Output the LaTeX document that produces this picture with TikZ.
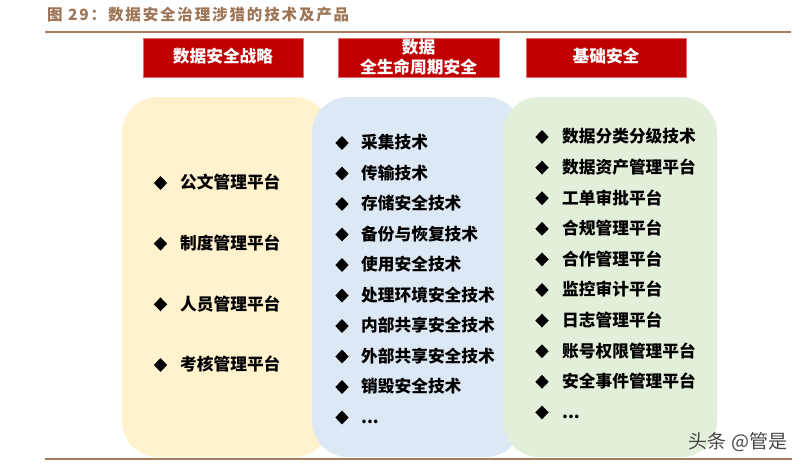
\documentclass[tikz,border=0pt]{standalone}
\usepackage{fontspec}
\setmainfont{Noto Sans CJK SC}
\usetikzlibrary{shapes.geometric}
\definecolor{titlebrown}{HTML}{9E7556}
\definecolor{rulebrown}{HTML}{A57D5E}
\definecolor{hdrred}{HTML}{C00000}
\definecolor{hdredge}{HTML}{E46C6C}
\definecolor{pyellow}{HTML}{FFF2CC}
\definecolor{pblue}{HTML}{DDE8F5}
\definecolor{pgreen}{HTML}{E2EFDA}
\newcommand\mydots{.{}.{}.}
\begin{document}
\begin{tikzpicture}[x=1pt,y=-1pt,
 hdr/.style={draw=hdredge, line width=0.8pt, fill=hdrred, text=white,
   font=\fontsize{16.7}{20}\selectfont\bfseries, align=center, inner sep=0pt,
   text height=13.6pt, text depth=3pt,
   minimum width=160, minimum height=39},
 hdrtext/.style={text=white, inner sep=0pt, font=\fontsize{16.7}{20}\selectfont\bfseries,
   text height=14pt, text depth=2.4pt},
 panel/.style={rounded corners=36pt},
 item/.style={anchor=west, inner sep=0pt, font=\fontsize{16.7}{20}\selectfont\bfseries,
   text height=14pt, text depth=2.4pt},
 bul/.style={diamond, fill=black, inner sep=0pt, minimum width=13.5, minimum height=14},
 rule/.style={draw=rulebrown, line width=2pt}
]
\useasboundingbox[fill=white] (0,0) rectangle (806,467);

% title and rules
\node[anchor=west, inner sep=0pt, text=titlebrown,
  font=\fontsize{15.5}{18}\selectfont\bfseries\addfontfeature{LetterSpace=12}] (title) at (47,15) {图 29：数据安全治理涉猎的技术及产品};
\coordinate (rt1) at (45,32); \coordinate (rt2) at (791,32);
\coordinate (rb1) at (45,459); \coordinate (rb2) at (792,459);

% panels
\fill[pyellow, panel] (122,97) rectangle (330,457);
\fill[pblue, panel] (312,97) rectangle (522,457);
\fill[pgreen, panel] (503,97) rectangle (717,457);

\draw[rule] (rt1) -- (rt2);
\draw[rule] (rb1) -- (rb2);

% headers
\node[hdr] (h1) at (223,57.5) {数据安全战略};
\node[hdr, minimum width=161] (h2) at (418.5,57.5) {};
\node[hdrtext] (h2a) at (418.5,48) {数据};
\node[hdrtext] (h2b) at (418.5,68) {全生命周期安全};
\node[hdr] (h3) at (606,57.5) {基础安全};

% left column
\foreach \t [count=\i] in {公文管理平台,制度管理平台,人员管理平台,考核管理平台}{
  \pgfmathsetmacro{\yy}{183+(\i-1)*60.67}
  \node[bul] (lb\i) at (160.5,\yy) {};
  \node[item] (l\i) at (180,\yy) {\t};
}
% middle column
\foreach \t [count=\i] in {采集技术,传输技术,存储安全技术,备份与恢复技术,使用安全技术,处理环境安全技术,内部共享安全技术,外部共享安全技术,销毁安全技术,\mydots}{
  \pgfmathsetmacro{\yy}{143+(\i-1)*30.5}
  \node[bul] (mb\i) at (342,\yy) {};
  \node[item] (m\i) at (361,\yy) {\t};
}
% right column
\foreach \t [count=\i] in {数据分类分级技术,数据资产管理平台,工单审批平台,合规管理平台,合作管理平台,监控审计平台,日志管理平台,账号权限管理平台,安全事件管理平台,\mydots}{
  \pgfmathsetmacro{\yy}{137+(\i-1)*30.6}
  \node[bul] (rb\i) at (542,\yy) {};
  \node[item] (r\i) at (562,\yy) {\t};
}

% watermark
\node[text=black!72, inner sep=0pt, font=\fontsize{19}{22}\selectfont] (wm) at (738,442) {头条 @管是};
\end{tikzpicture}
\end{document}
